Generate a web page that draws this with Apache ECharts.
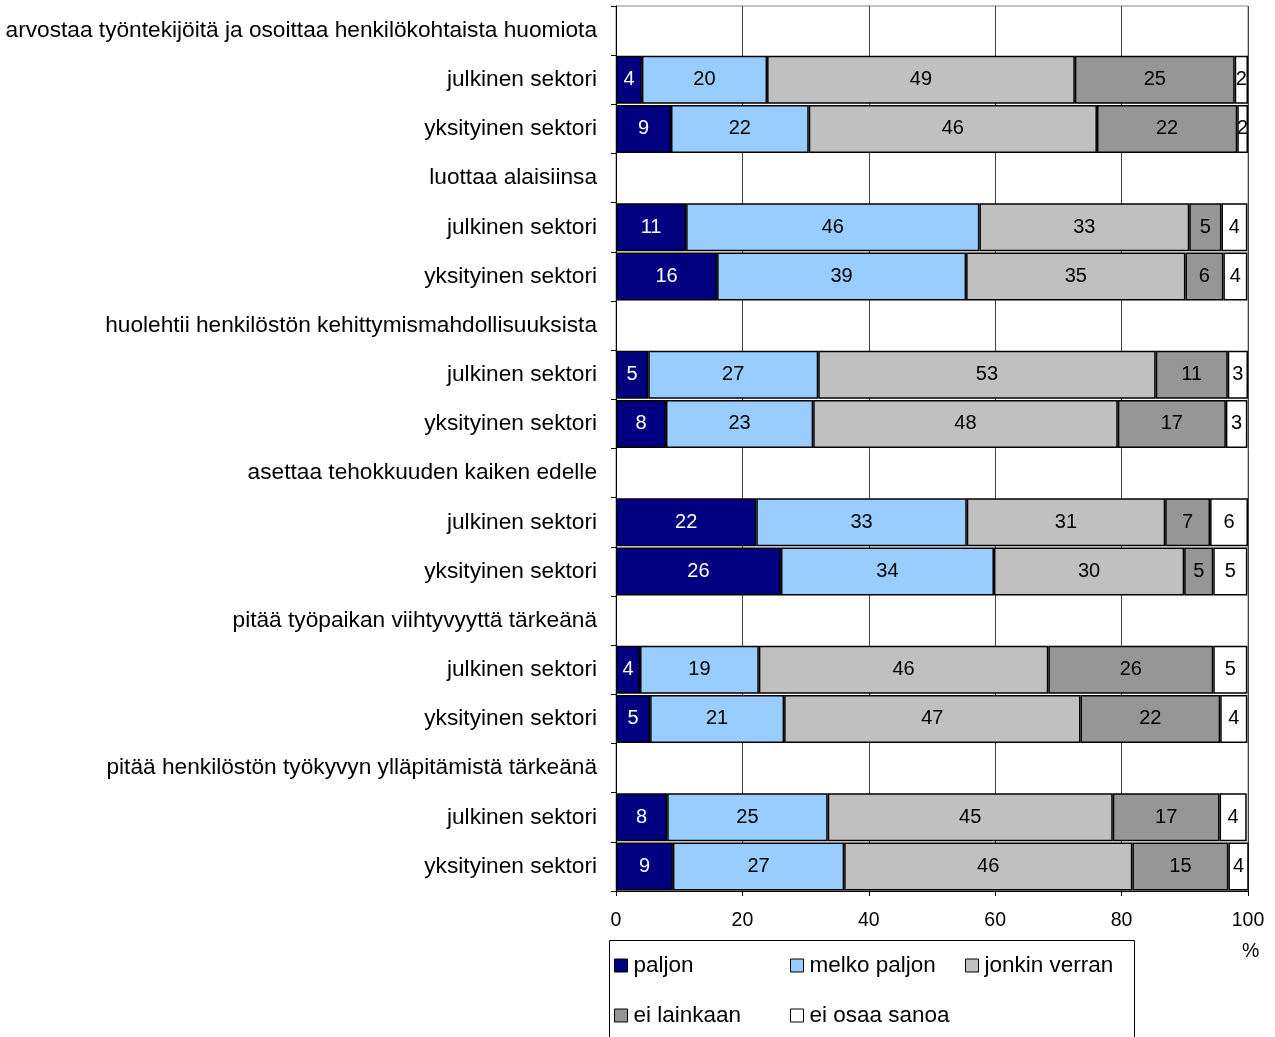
<!DOCTYPE html>
<html>
<head>
<meta charset="utf-8">
<script src="https://cdn.jsdelivr.net/npm/echarts@6/dist/echarts.min.js"></script>
<style>
  html, body { margin: 0; padding: 0; background: #fff; }
  #main { width: 1275px; height: 1037px; }
</style>
</head>
<body>
<div id="main"></div>
<script>
// rivit: otsikkorivi + julkinen + yksityinen
var categories = [
  'arvostaa työntekijöitä ja osoittaa henkilökohtaista huomiota', 'julkinen sektori', 'yksityinen sektori',
  'luottaa alaisiinsa', 'julkinen sektori', 'yksityinen sektori',
  'huolehtii henkilöstön kehittymismahdollisuuksista', 'julkinen sektori', 'yksityinen sektori',
  'asettaa tehokkuuden kaiken edelle', 'julkinen sektori', 'yksityinen sektori',
  'pitää työpaikan viihtyvyyttä tärkeänä', 'julkinen sektori', 'yksityinen sektori',
  'pitää henkilöstön työkyvyn ylläpitämistä tärkeänä', 'julkinen sektori', 'yksityinen sektori'
];
var seriesNames = ['paljon', 'melko paljon', 'jonkin verran', 'ei lainkaan', 'ei osaa sanoa'];

// '-' = otsikkorivi ilman palkkia
var paljon       = ['-', 4.1, 8.7, '-', 11.1, 16.0, '-', 5.1, 7.9, '-', 22.2, 26.1, '-', 3.8, 5.4, '-', 8.1, 9.0];
var melkoPaljon  = ['-', 19.8, 21.8, '-', 46.4, 39.4, '-', 26.9, 23.3, '-', 33.3, 33.7, '-', 18.8, 21.2, '-', 25.4, 27.1];
var jonkinVerran = ['-', 48.7, 45.6, '-', 33.2, 34.7, '-', 53.4, 48.2, '-', 31.4, 30.1, '-', 45.8, 46.9, '-', 45.1, 45.6];
var eiLainkaan   = ['-', 25.3, 22.2, '-', 5.1, 6.0, '-', 11.4, 17.1, '-', 7.1, 4.6, '-', 26.1, 22.1, '-', 16.9, 15.2];
var eiOsaaSanoa  = ['-', 2.1, 1.7, '-', 4.1, 3.8, '-', 3.2, 3.4, '-', 6.0, 5.4, '-', 5.4, 4.3, '-', 4.3, 3.5];

var xTicks = [0, 20, 40, 60, 80, 100];

var colors = ['#000080', '#99ccff', '#c0c0c0', '#969696', '#ffffff'];
var allData = [paljon, melkoPaljon, jonkinVerran, eiLainkaan, eiOsaaSanoa];

var myChart = echarts.init(document.getElementById('main'));

var series = seriesNames.map(function (name, i) {
  return {
    name: name,
    type: 'bar',
    stack: 'all',
    data: allData[i],
    barWidth: 48,
    itemStyle: { color: colors[i], borderColor: '#000', borderWidth: 1.5 },
    label: {
      show: true,
      position: 'inside',
      fontFamily: 'Liberation Sans',
      fontSize: 20,
      color: i === 0 ? '#fff' : '#000',
      formatter: function (p) { return Math.round(p.value); }
    },
    emphasis: { disabled: true }
  };
});

var legendBase = {
  orient: 'vertical',
  top: 949,
  itemWidth: 13,
  itemHeight: 13,
  itemGap: 27,
  icon: 'rect',
  selectedMode: false,
  itemStyle: { borderColor: '#000', borderWidth: 1 },
  textStyle: { fontFamily: 'Liberation Sans', fontSize: 22.5, color: '#000', padding: [0, 0, 0, 1] }
};

var option = {
  animation: false,
  backgroundColor: '#fff',
  grid: {
    left: 616, right: 27, top: 6, bottom: 146,
    show: true, borderColor: '#888', borderWidth: 1
  },
  xAxis: {
    type: 'value',
    min: 0, max: 100, interval: 20,
    axisLine: { show: true, lineStyle: { color: '#000', width: 1 } },
    axisTick: { show: true, length: 5, lineStyle: { color: '#000' } },
    axisLabel: {
      margin: 20, fontFamily: 'Liberation Sans', fontSize: 19.5, color: '#000',
      formatter: function (v) { return xTicks.indexOf(v) >= 0 ? v : ''; }
    },
    splitLine: { show: true, lineStyle: { color: '#444', width: 1 } }
  },
  yAxis: {
    type: 'category',
    inverse: true,
    data: categories,
    axisLine: { show: true, lineStyle: { color: '#000', width: 1 } },
    axisTick: { show: true, length: 5, lineStyle: { color: '#000' } },
    axisLabel: { margin: 19, fontFamily: 'Liberation Sans', fontSize: 22.7, color: '#000' },
    splitLine: { show: false }
  },
  legend: [
    Object.assign({}, legendBase, { left: 609, data: ['paljon', 'ei lainkaan'] }),
    Object.assign({}, legendBase, { left: 785, data: ['melko paljon', 'ei osaa sanoa'] }),
    Object.assign({}, legendBase, { left: 960, data: ['jonkin verran'] })
  ],
  graphic: [
    {
      type: 'rect', left: 607, top: 938,
      shape: { width: 525, height: 120 },
      style: { fill: 'none', stroke: '#000', lineWidth: 1 }
    },
    {
      type: 'text', left: 1242, top: 942,
      style: { text: '%', fontFamily: 'Liberation Sans', fontSize: 19.5, fill: '#000' }
    }
  ],
  series: series
};

myChart.setOption(option);
</script>
</body>
</html>
